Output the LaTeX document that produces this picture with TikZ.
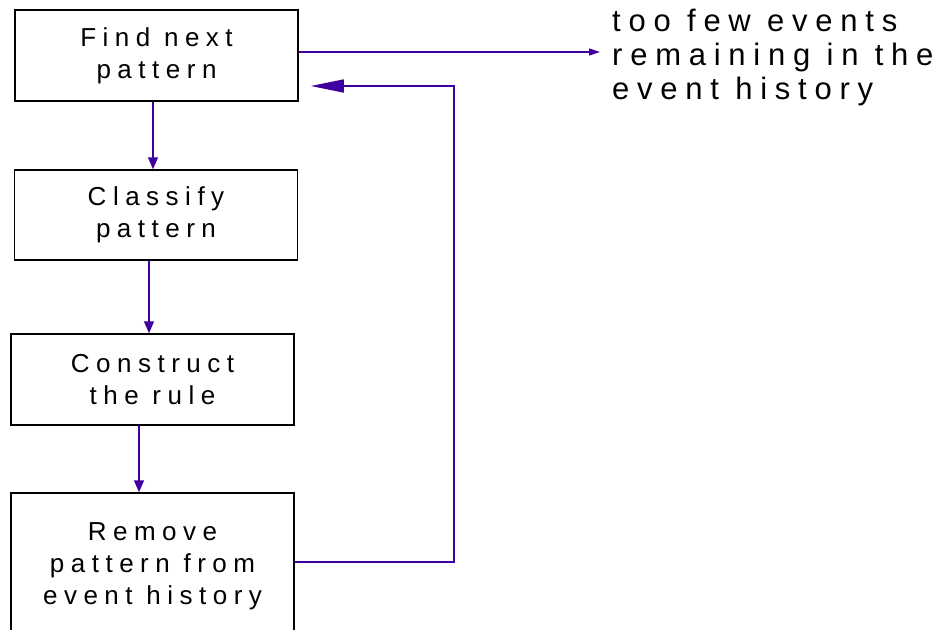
\documentclass[tikz,border=0pt]{standalone}
\usepackage{fontspec}
\setmainfont[LetterSpace=25]{Liberation Sans}
\usepackage{xcolor}
\usepackage{tikz}
\usetikzlibrary{arrows.meta}
\definecolor{flowcol}{RGB}{64,0,160}
\tikzset{stage/.style = {draw, line width=1.5pt, minimum width=283pt, align=center,
  font=\fontsize{26}{32}\selectfont},
  flow/.style = {draw=flowcol, line width=1.5pt, -{Triangle[length=12pt,width=10pt]}}}

\begin{document}
\begin{tikzpicture}[x=1pt,y=-1pt]
  \useasboundingbox (0,0) rectangle (949,629);
  \node[stage, minimum height=91pt] (find) at (156.5,55.5) {Find next\\pattern};
  \node[stage, minimum height=90pt] (classify) at (156,215) {Classify\\pattern};
  \node[stage, minimum height=91pt] (rule) at (152.5,379.5) {Construct\\the rule};
  \node[stage, minimum height=146pt] (remove) at (152.5,566) {Remove\\pattern from\\event history};
  \node[anchor=west, align=left, inner sep=0pt, font=\fontsize{31}{34}\selectfont] (stop) at (612,57)
    {too few events\\remaining in the\\event history};
  \draw[flow] ([xshift=-3.5pt]find.south) -- ([xshift=-3pt]classify.north);
  \draw[flow] ([xshift=-7pt]classify.south) -- ([xshift=-3.5pt]rule.north);
  \draw[flow] ([xshift=-13.5pt]rule.south) -- ([xshift=-13.5pt]remove.north);
  \draw[flow, -{Triangle[length=11pt,width=7pt]}] ([yshift=3.5pt]find.east) -- ([xshift=-12pt,yshift=5pt]stop.west);
  \draw[flow, -{Triangle[length=33pt,width=13pt]}] ([yshift=4pt]remove.east) -- ++(159,0)
    |- ([xshift=12pt,yshift=-30.5pt]find.east);
\end{tikzpicture}
\end{document}
